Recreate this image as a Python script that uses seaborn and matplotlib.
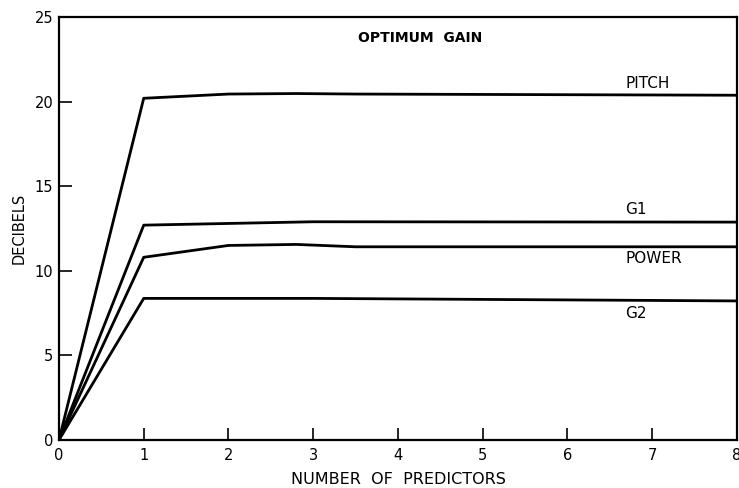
import matplotlib
matplotlib.use("Agg")
import matplotlib.pyplot as plt
import seaborn as sns
import pandas as pd

# Data
pitch_x = [0, 1, 2, 2.8, 3.5, 8]
pitch_y = [0, 20.2, 20.45, 20.48, 20.45, 20.38]
g1_x = [0, 1, 2, 3, 8]
g1_y = [0, 12.7, 12.8, 12.9, 12.88]
power_x = [0, 1, 2, 2.8, 3.5, 8]
power_y = [0, 10.8, 11.5, 11.56, 11.42, 11.42]
g2_x = [0, 1, 3, 8]
g2_y = [0, 8.37, 8.37, 8.22]

series_names = ["PITCH", "G1", "POWER", "G2"]
label_x = [6.68, 6.68, 6.68, 6.68]
label_y = [21.05, 13.6, 10.7, 7.5]

title_text = "OPTIMUM  GAIN"
x_label = "NUMBER  OF  PREDICTORS"
y_label = "DECIBELS"
x_ticks = [0, 1, 2, 3, 4, 5, 6, 7, 8]
y_ticks = [0, 5, 10, 15, 20, 25]

rows = []
for name, xs, ys in zip(series_names,
                        [pitch_x, g1_x, power_x, g2_x],
                        [pitch_y, g1_y, power_y, g2_y]):
    for xv, yv in zip(xs, ys):
        rows.append({"x": xv, "y": yv, "series": name})
df = pd.DataFrame(rows)

sns.set_theme(style="white")
plt.rcParams["font.family"] = ["DejaVu Sans"]

fig = plt.figure(figsize=(7.39, 4.88), dpi=100)
ax = fig.add_axes([0.0798, 0.0984, 0.9175, 0.8666])

sns.lineplot(data=df, x="x", y="y", units="series", estimator=None,
             color="black", linewidth=2.0, ax=ax, sort=False, legend=False)

ax.set_xlim(0, 8)
ax.set_ylim(0, 25)
ax.set_xticks(x_ticks)
ax.set_yticks(y_ticks)
ax.tick_params(axis="both", which="major", direction="in", length=9,
               width=1.2, colors="black", labelsize=10.5,
               bottom=True, left=True)
ax.tick_params(axis="x", pad=6)
ax.tick_params(axis="y", pad=4)
for s in ax.spines.values():
    s.set_color("black")
    s.set_linewidth(1.6)

ax.set_xlabel(x_label, fontsize=11.5, labelpad=6, color="black")
ax.set_ylabel(y_label, fontsize=10.5, labelpad=6, color="black")

ax.text(4.26, 23.75, title_text, ha="center", va="center", fontsize=10,
        fontweight="bold", color="black")
for name, lx, ly in zip(series_names, label_x, label_y):
    ax.text(lx, ly, name, ha="left", va="center", fontsize=11, color="black")

fig.savefig("out.png", dpi=100)
